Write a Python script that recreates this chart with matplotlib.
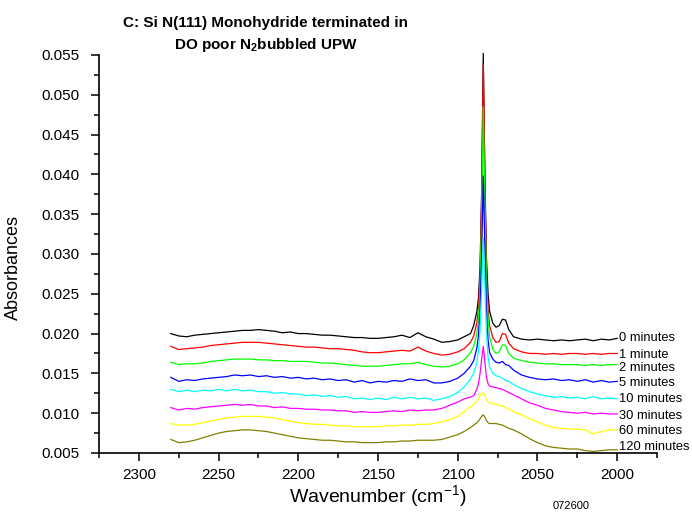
import matplotlib
matplotlib.use("Agg")
import matplotlib.pyplot as plt
from matplotlib.ticker import MultipleLocator, FormatStrFormatter

plt.rcParams['font.family'] = ['Liberation Sans', 'DejaVu Sans']
plt.rcParams['mathtext.fontset'] = 'custom'
plt.rcParams['mathtext.rm'] = 'Liberation Sans'
plt.rcParams['mathtext.bf'] = 'Liberation Sans:bold'

# wavenumber grid (cm-1), denser around the Si-H peak
wn = [2280, 2275, 2270, 2265, 2260, 2255, 2250, 2245, 2240, 2235, 2230, 2225,
      2220, 2215, 2210, 2205, 2200, 2195, 2190, 2185, 2180, 2175, 2170, 2165,
      2160, 2155, 2150, 2145, 2140, 2135, 2130, 2125, 2120, 2115, 2110, 2105,
      2100, 2096, 2092, 2090, 2088, 2087, 2086, 2085, 2084, 2083, 2082, 2081,
      2080, 2078, 2076, 2074, 2072, 2070, 2068, 2065, 2060, 2055, 2050, 2045,
      2040, 2035, 2030, 2025, 2020, 2015, 2010, 2005, 2000]

min0 = [0.0200, 0.0197, 0.0196, 0.0198, 0.0199, 0.0200, 0.0201, 0.0202, 0.0203, 0.0204, 0.0204, 0.0205,
        0.0204, 0.0203, 0.0201, 0.0202, 0.0200, 0.0200, 0.0199, 0.0198, 0.0198, 0.0197, 0.0196, 0.0195,
        0.0195, 0.0194, 0.0194, 0.0195, 0.0196, 0.0198, 0.0195, 0.0201, 0.0196, 0.0193, 0.0189, 0.0190,
        0.0192, 0.0196, 0.0200, 0.0210, 0.0228, 0.0245, 0.0285, 0.0380, 0.0552, 0.0400, 0.0295, 0.0250,
        0.0228, 0.0213, 0.0208, 0.0210, 0.0218, 0.0217, 0.0205, 0.0196, 0.0193, 0.0192, 0.0193, 0.0192,
        0.0191, 0.0192, 0.0191, 0.0192, 0.0193, 0.0191, 0.0193, 0.0192, 0.0194]
min1 = [0.0184, 0.0180, 0.0181, 0.0182, 0.0183, 0.0185, 0.0186, 0.0187, 0.0188, 0.0189, 0.0189, 0.0189,
        0.0188, 0.0187, 0.0186, 0.0185, 0.0184, 0.0183, 0.0183, 0.0182, 0.0181, 0.0181, 0.0180, 0.0179,
        0.0177, 0.0176, 0.0176, 0.0177, 0.0178, 0.0179, 0.0178, 0.0183, 0.0178, 0.0175, 0.0173, 0.0174,
        0.0177, 0.0181, 0.0189, 0.0197, 0.0214, 0.0232, 0.0272, 0.0370, 0.0538, 0.0390, 0.0280, 0.0232,
        0.0210, 0.0195, 0.0189, 0.0190, 0.0200, 0.0199, 0.0188, 0.0181, 0.0177, 0.0175, 0.0175, 0.0174,
        0.0175, 0.0174, 0.0175, 0.0175, 0.0174, 0.0175, 0.0174, 0.0175, 0.0175]
min2 = [0.0164, 0.0161, 0.0162, 0.0162, 0.0163, 0.0165, 0.0166, 0.0167, 0.0168, 0.0168, 0.0168, 0.0167,
        0.0167, 0.0166, 0.0166, 0.0165, 0.0165, 0.0165, 0.0164, 0.0163, 0.0163, 0.0162, 0.0161, 0.0160,
        0.0159, 0.0159, 0.0159, 0.0160, 0.0161, 0.0162, 0.0162, 0.0164, 0.0161, 0.0159, 0.0158, 0.0159,
        0.0162, 0.0167, 0.0176, 0.0184, 0.0200, 0.0218, 0.0255, 0.0345, 0.0485, 0.0360, 0.0262, 0.0218,
        0.0196, 0.0180, 0.0175, 0.0177, 0.0186, 0.0185, 0.0175, 0.0169, 0.0166, 0.0164, 0.0163, 0.0162,
        0.0162, 0.0161, 0.0161, 0.0161, 0.0160, 0.0161, 0.0160, 0.0161, 0.0161]
min5 = [0.0145, 0.0140, 0.0142, 0.0141, 0.0143, 0.0144, 0.0145, 0.0146, 0.0148, 0.0147, 0.0148, 0.0146,
        0.0147, 0.0145, 0.0146, 0.0144, 0.0145, 0.0143, 0.0144, 0.0142, 0.0143, 0.0141, 0.0142, 0.0139,
        0.0141, 0.0138, 0.0140, 0.0139, 0.0141, 0.0140, 0.0143, 0.0141, 0.0142, 0.0138, 0.0138, 0.0140,
        0.0144, 0.0150, 0.0159, 0.0166, 0.0182, 0.0198, 0.0230, 0.0300, 0.0398, 0.0310, 0.0230, 0.0192,
        0.0176, 0.0168, 0.0164, 0.0163, 0.0165, 0.0161, 0.0160, 0.0154, 0.0148, 0.0145, 0.0143, 0.0142,
        0.0143, 0.0141, 0.0142, 0.0140, 0.0142, 0.0139, 0.0141, 0.0139, 0.0140]
min10 = [0.0130, 0.0127, 0.0129, 0.0127, 0.0129, 0.0128, 0.0130, 0.0128, 0.0130, 0.0128, 0.0129, 0.0127,
         0.0127, 0.0125, 0.0126, 0.0124, 0.0124, 0.0122, 0.0123, 0.0121, 0.0122, 0.0120, 0.0121, 0.0118,
         0.0119, 0.0117, 0.0119, 0.0117, 0.0120, 0.0118, 0.0120, 0.0118, 0.0119, 0.0116, 0.0118, 0.0121,
         0.0126, 0.0133, 0.0143, 0.0150, 0.0164, 0.0178, 0.0205, 0.0255, 0.0320, 0.0262, 0.0200, 0.0170,
         0.0158, 0.0150, 0.0147, 0.0146, 0.0144, 0.0141, 0.0140, 0.0136, 0.0131, 0.0127, 0.0124, 0.0122,
         0.0120, 0.0121, 0.0119, 0.0120, 0.0118, 0.0121, 0.0118, 0.0119, 0.0118]
min30 = [0.0107, 0.0104, 0.0106, 0.0105, 0.0107, 0.0108, 0.0109, 0.0110, 0.0111, 0.0110, 0.0111, 0.0109,
         0.0109, 0.0107, 0.0108, 0.0106, 0.0106, 0.0105, 0.0105, 0.0104, 0.0104, 0.0103, 0.0103, 0.0101,
         0.0102, 0.0101, 0.0101, 0.0102, 0.0103, 0.0102, 0.0104, 0.0103, 0.0104, 0.0104, 0.0106, 0.0110,
         0.0114, 0.0118, 0.0120, 0.0122, 0.0130, 0.0137, 0.0150, 0.0168, 0.0184, 0.0165, 0.0145, 0.0137,
         0.0134, 0.0133, 0.0132, 0.0131, 0.0130, 0.0128, 0.0126, 0.0123, 0.0118, 0.0113, 0.0110, 0.0106,
         0.0104, 0.0102, 0.0101, 0.0100, 0.0101, 0.0099, 0.0100, 0.0099, 0.0099]
min60 = [0.0087, 0.0085, 0.0085, 0.0086, 0.0088, 0.0090, 0.0092, 0.0094, 0.0095, 0.0096, 0.0096, 0.0096,
         0.0095, 0.0094, 0.0092, 0.0090, 0.0088, 0.0087, 0.0086, 0.0086, 0.0085, 0.0084, 0.0084, 0.0083,
         0.0083, 0.0083, 0.0083, 0.0084, 0.0084, 0.0085, 0.0085, 0.0086, 0.0086, 0.0087, 0.0089, 0.0092,
         0.0096, 0.0102, 0.0108, 0.0111, 0.0115, 0.0118, 0.0122, 0.0125, 0.0126, 0.0122, 0.0117, 0.0114,
         0.0113, 0.0112, 0.0111, 0.0110, 0.0109, 0.0107, 0.0105, 0.0102, 0.0098, 0.0093, 0.0089, 0.0085,
         0.0082, 0.0081, 0.0080, 0.0080, 0.0079, 0.0074, 0.0077, 0.0079, 0.0079]
min120 = [0.0067, 0.0063, 0.0064, 0.0066, 0.0069, 0.0072, 0.0075, 0.0077, 0.0078, 0.0079, 0.0079, 0.0078,
          0.0077, 0.0075, 0.0073, 0.0071, 0.0069, 0.0068, 0.0067, 0.0066, 0.0066, 0.0065, 0.0064, 0.0064,
          0.0063, 0.0063, 0.0063, 0.0064, 0.0064, 0.0065, 0.0065, 0.0066, 0.0066, 0.0066, 0.0067, 0.0070,
          0.0073, 0.0077, 0.0082, 0.0085, 0.0088, 0.0090, 0.0093, 0.0096, 0.0098, 0.0095, 0.0091, 0.0088,
          0.0087, 0.0087, 0.0087, 0.0086, 0.0085, 0.0083, 0.0081, 0.0079, 0.0074, 0.0068, 0.0063, 0.0059,
          0.0057, 0.0056, 0.0055, 0.0055, 0.0053, 0.0052, 0.0053, 0.0054, 0.0054]

series = [min0, min1, min2, min5, min10, min30, min60, min120]
labels = ["0 minutes", "1 minute", "2 minutes", "5 minutes",
          "10 minutes", "30 minutes", "60 minutes", "120 minutes"]
label_y = [0.0194, 0.0173, 0.0157, 0.0138, 0.0118, 0.0097, 0.0077, 0.0058]
colors = ["#000000", "#ff0000", "#00ff00", "#0000ff",
          "#00ffff", "#ff00ff", "#ffff00", "#808000"]

fig = plt.figure(figsize=(6.92, 5.19), dpi=100)
ax = fig.add_axes([0.1431, 0.1272, 0.8064, 0.7669])

for s, c in zip(series, colors):
    ax.plot(wn, s, color=c, lw=0.9, clip_on=False)

for lab, y in zip(labels, label_y):
    ax.text(1999, y, lab, fontsize=9.3, va='center', ha='left')

ax.set_xlim(2325, 1975)
ax.set_ylim(0.005, 0.055)
ax.xaxis.set_major_locator(MultipleLocator(50))
ax.xaxis.set_minor_locator(MultipleLocator(25))
ax.yaxis.set_major_locator(MultipleLocator(0.005))
ax.yaxis.set_minor_locator(MultipleLocator(0.0025))
ax.yaxis.set_major_formatter(FormatStrFormatter('%.3f'))

ax.spines['top'].set_visible(False)
ax.spines['right'].set_visible(False)
ax.spines['left'].set_linewidth(1.2)
ax.spines['bottom'].set_linewidth(1.2)
ax.tick_params(which='major', length=6, width=1.1, labelsize=11)
ax.tick_params(which='minor', length=3.5, width=1.1)
ax.tick_params(axis='y', which='major', pad=8)
ax.tick_params(axis='x', which='major', pad=5)

ax.set_xlabel("Wavenumber (cm$^{-1}$)", fontsize=14)
ax.xaxis.label.set_verticalalignment('center')
ax.xaxis.set_label_coords(0.5, -0.11)
ax.set_ylabel("Absorbances", fontsize=13)
ax.yaxis.set_label_coords(-0.1385, 0.466)

fig.text(0.384, 0.956, "C: Si N(111) Monohydride terminated in",
         fontsize=11, fontweight='bold', ha='center', va='center')
fig.text(0.384, 0.913, r"DO poor N$_\mathbf{2}$bubbled UPW",
         fontsize=11, fontweight='bold', ha='center', va='center')
fig.text(0.825, 0.025, "072600", fontsize=8, ha='center', va='center')

fig.savefig("out.png", dpi=100)
